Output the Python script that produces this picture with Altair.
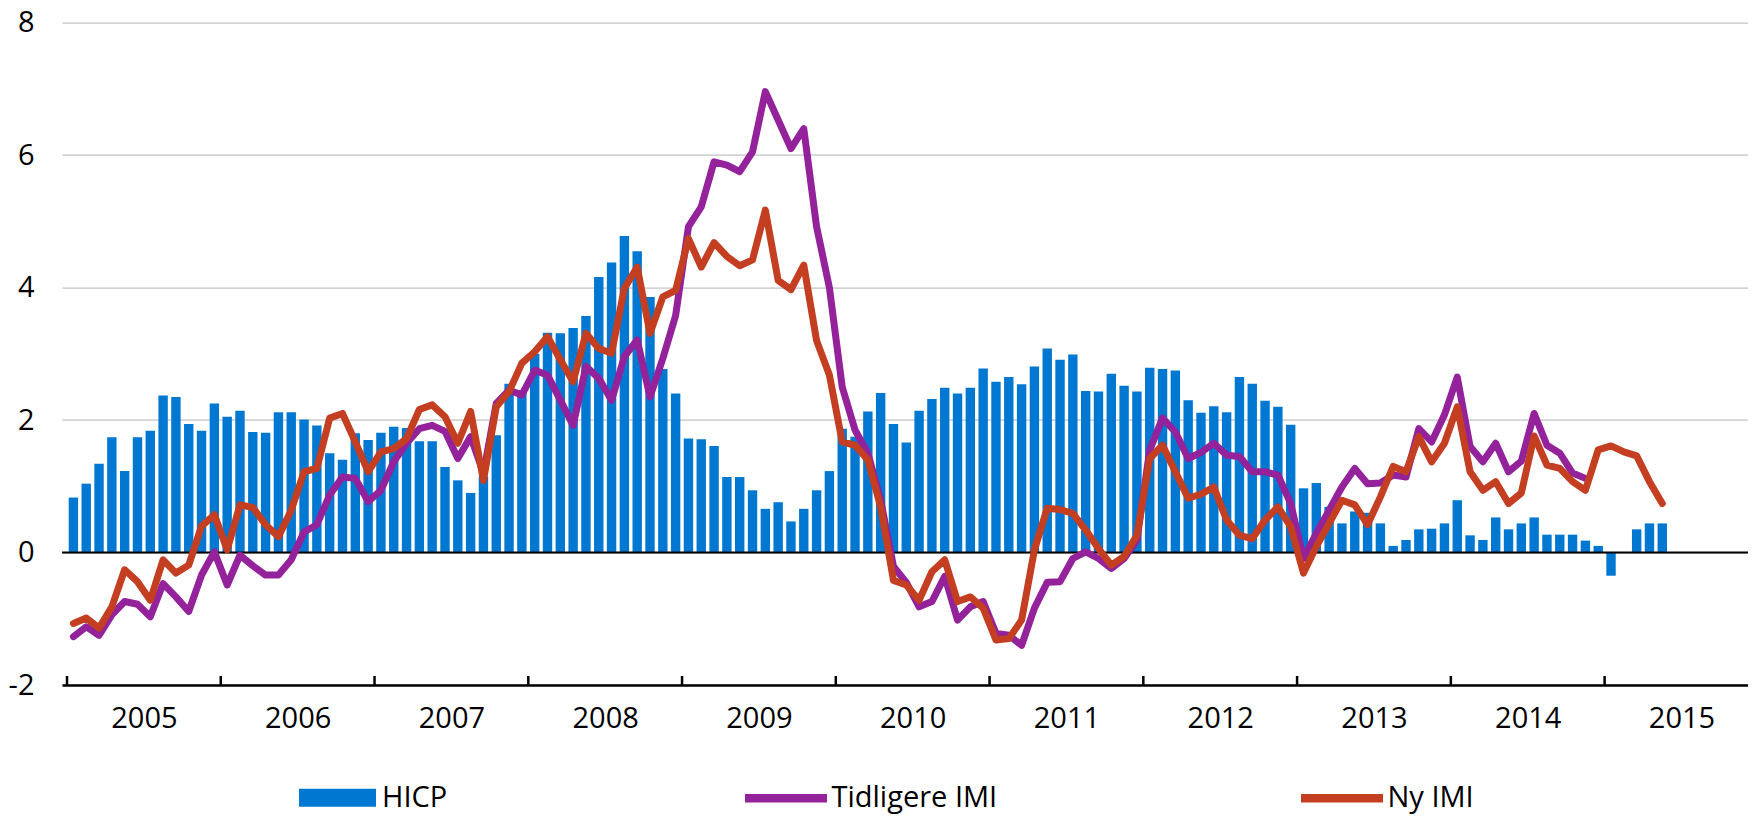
import altair as alt
import pandas as pd

# ---------------- data (monthly, Jan 2005 - May 2015) ----------------
years = ["2005", "2006", "2007", "2008", "2009", "2010",
         "2011", "2012", "2013", "2014", "2015"]

hicp = [0.83, 1.04, 1.34, 1.74, 1.23, 1.74, 1.84, 2.37, 2.35, 1.94, 1.84, 2.25,
        2.05, 2.14, 1.82, 1.81, 2.12, 2.12, 2.01, 1.92, 1.50, 1.40, 1.80, 1.70,
        1.81, 1.90, 1.88, 1.68, 1.68, 1.29, 1.09, 0.90, 1.15, 1.77, 2.55, 2.45,
        3.00, 3.32, 3.31, 3.39, 3.57, 4.16, 4.38, 4.78, 4.55, 3.86, 2.77, 2.40,
        1.72, 1.71, 1.61, 1.14, 1.14, 0.94, 0.66, 0.76, 0.47, 0.66, 0.94, 1.23,
        1.87, 1.75, 2.13, 2.41, 1.94, 1.66, 2.14, 2.32, 2.49, 2.40, 2.49, 2.78,
        2.58, 2.65, 2.54, 2.81, 3.08, 2.91, 2.99, 2.44, 2.43, 2.70, 2.52, 2.43,
        2.79, 2.77, 2.75, 2.30, 2.11, 2.21, 2.12, 2.65, 2.55, 2.29, 2.20, 1.93,
        0.97, 1.05, 0.69, 0.44, 0.62, 0.60, 0.44, 0.10, 0.19, 0.35, 0.36, 0.44,
        0.79, 0.26, 0.19, 0.53, 0.35, 0.44, 0.53, 0.27, 0.27, 0.27, 0.18, 0.10,
        -0.35, 0.0, 0.35, 0.44, 0.44]

tidligere = [-1.27, -1.12, -1.25, -0.94, -0.74, -0.78, -0.97, -0.47, -0.67, -0.89, -0.34, 0.01,
             -0.49, -0.04, -0.20, -0.34, -0.34, -0.11, 0.31, 0.42, 0.87, 1.14, 1.12, 0.77,
             0.94, 1.37, 1.65, 1.87, 1.92, 1.83, 1.42, 1.75, 1.20, 2.25, 2.45, 2.38,
             2.75, 2.68, 2.30, 1.92, 2.81, 2.63, 2.30, 2.96, 3.21, 2.35, 2.93, 3.58,
             4.92, 5.22, 5.90, 5.85, 5.75, 6.05, 6.96, 6.53, 6.10, 6.40, 4.92, 4.00,
             2.50, 1.85, 1.50, 0.79, -0.21, -0.45, -0.82, -0.74, -0.36, -1.02, -0.82, -0.74,
             -1.22, -1.25, -1.40, -0.84, -0.45, -0.44, -0.09, 0.01, -0.09, -0.24, -0.09, 0.19,
             1.55, 2.03, 1.82, 1.42, 1.51, 1.65, 1.47, 1.45, 1.22, 1.22, 1.17, 0.74,
             -0.09, 0.29, 0.64, 0.99, 1.27, 1.04, 1.05, 1.17, 1.14, 1.87, 1.67, 2.08,
             2.65, 1.60, 1.37, 1.65, 1.22, 1.38, 2.10, 1.62, 1.50, 1.20, 1.12]

ny = [-1.07, -0.99, -1.14, -0.82, -0.26, -0.44, -0.72, -0.11, -0.31, -0.19, 0.40, 0.57,
      0.04, 0.72, 0.68, 0.42, 0.24, 0.64, 1.22, 1.27, 2.03, 2.10, 1.67, 1.22,
      1.52, 1.57, 1.72, 2.16, 2.23, 2.05, 1.65, 2.13, 1.09, 2.20, 2.43, 2.86,
      3.03, 3.26, 2.91, 2.58, 3.31, 3.08, 3.01, 3.99, 4.31, 3.31, 3.86, 3.96,
      4.74, 4.31, 4.68, 4.47, 4.33, 4.42, 5.17, 4.11, 3.97, 4.34, 3.20, 2.68,
      1.67, 1.62, 1.40, 0.69, -0.42, -0.49, -0.72, -0.29, -0.11, -0.74, -0.67, -0.84,
      -1.32, -1.30, -1.02, 0.04, 0.67, 0.65, 0.59, 0.34, 0.06, -0.19, -0.06, 0.26,
      1.42, 1.62, 1.22, 0.82, 0.88, 0.99, 0.49, 0.26, 0.21, 0.49, 0.69, 0.39,
      -0.31, 0.09, 0.44, 0.79, 0.72, 0.42, 0.84, 1.30, 1.22, 1.75, 1.37, 1.65,
      2.20, 1.22, 0.94, 1.07, 0.74, 0.90, 1.76, 1.32, 1.27, 1.07, 0.94, 1.55,
      1.61, 1.52, 1.46, 1.07, 0.74]

series_names = ["HICP", "Tidligere IMI", "Ny IMI"]

# ---------------- styling ----------------
BLUE = "#0078d2"
PURPLE = "#93229b"
RED = "#c43e21"
FONT = "Open Sans"

W = 1686
H = 662.3
X_DOMAIN = [0, 130.8]   # months from Jan 2005

t = [i + 0.5 for i in range(len(hicp))]
df_bar = pd.DataFrame({"t": t, "v": hicp, "s": series_names[0]})
df_old = pd.DataFrame({"t": t[:len(tidligere)], "v": tidligere, "s": series_names[1]})
df_new = pd.DataFrame({"t": t[:len(ny)], "v": ny, "s": series_names[2]})
df_ticks = pd.DataFrame({"t": [12 * k for k in range(len(years))]})
df_zero = pd.DataFrame({"z": [0]})

xs = alt.Scale(domain=X_DOMAIN, nice=False, zero=False)
ys = alt.Scale(domain=[-2, 8], nice=False, zero=False)

year_arr = "[" + ",".join("'%s'" % y for y in years) + "]"
x_axis = alt.Axis(
    values=[12 * k + 6 for k in range(len(years))],
    labelExpr=year_arr + "[floor(datum.value / 12)]",
    ticks=False, grid=False, domain=True, domainColor="#000000",
    domainWidth=2.5, labelPadding=19, labelFlush=False, labelOverlap=False,
    title=None,
)
y_axis = alt.Axis(
    values=[-2, 0, 2, 4, 6, 8],
    labelExpr="datum.value < 0 ? '-' + abs(datum.value) : '' + datum.value",
    ticks=False, domain=False, grid=True, gridColor="#d3d3d3", gridWidth=1.8,
    labelPadding=28, title=None,
)

LEG_Y_BAR = 736.5
LEG_Y_LINE = 730

bars = alt.Chart(df_bar).mark_bar(width=9.4, orient="vertical").encode(
    x=alt.X("t:Q", scale=xs, axis=x_axis),
    y=alt.Y("v:Q", scale=ys, axis=y_axis),
    y2=alt.datum(0),
    color=alt.Color("s:N", scale=alt.Scale(domain=[series_names[0]], range=[BLUE]),
                    legend=alt.Legend(orient="none", legendX=237, legendY=LEG_Y_BAR,
                                      title=None,
                                      symbolType="M-1,-0.234H1V0.234H-1Z",
                                      symbolSize=5929, symbolStrokeWidth=0,
                                      labelOffset=6)),
)

zero = alt.Chart(df_zero).mark_rule(color="#000000", strokeWidth=2).encode(
    y=alt.Y("z:Q", scale=ys)
)

ticks = alt.Chart(df_ticks).mark_rule(color="#000000", strokeWidth=2.5).encode(
    x=alt.X("t:Q", scale=xs),
    y=alt.datum(-2),
    y2=alt.datum(-1.864),
)

old = alt.Chart(df_old).mark_line(strokeWidth=7, strokeCap="round", strokeJoin="round").encode(
    x=alt.X("t:Q", scale=xs),
    y=alt.Y("v:Q", scale=ys),
    color=alt.Color("s:N", scale=alt.Scale(domain=[series_names[1]], range=[PURPLE]),
                    legend=alt.Legend(orient="none", legendX=678.5, legendY=LEG_Y_LINE,
                                      title=None, symbolType="stroke",
                                      symbolSize=6724, symbolStrokeWidth=8.5,
                                      labelOffset=0)),
)

new = alt.Chart(df_new).mark_line(strokeWidth=7, strokeCap="round", strokeJoin="round").encode(
    x=alt.X("t:Q", scale=xs),
    y=alt.Y("v:Q", scale=ys),
    color=alt.Color("s:N", scale=alt.Scale(domain=[series_names[2]], range=[RED]),
                    legend=alt.Legend(orient="none", legendX=1234.5, legendY=LEG_Y_LINE,
                                      title=None, symbolType="stroke",
                                      symbolSize=6724, symbolStrokeWidth=8.5,
                                      labelOffset=0)),
)

chart = (
    alt.layer(bars, zero, ticks, old, new)
    .resolve_scale(color="independent")
    .properties(
        width=W, height=H,
        autosize=alt.AutoSizeParams(type="none"),
        padding={"left": 54, "top": 14.7, "right": 0, "bottom": 133},
    )
    .configure_view(stroke="transparent")
    .configure_axis(labelFont=FONT, labelFontSize=29, labelColor="#000000")
    .configure_legend(labelFont=FONT, labelFontSize=29, labelColor="#000000",
                      padding=0, labelLimit=400)
)

chart.save("out.html", embed_options={"renderer": "svg", "actions": False})
